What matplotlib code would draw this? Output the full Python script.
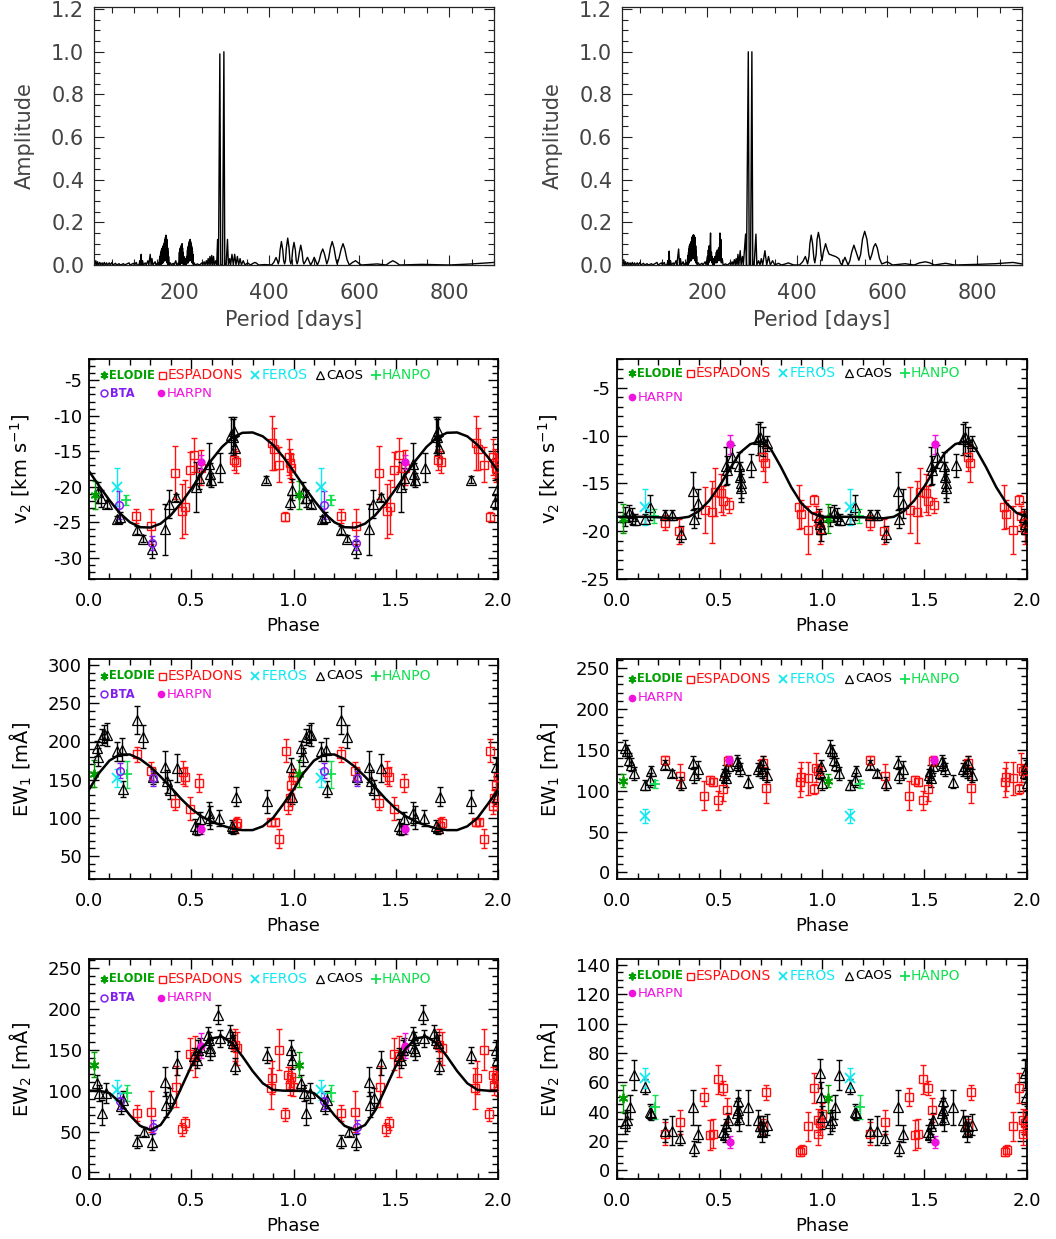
import matplotlib
matplotlib.use("Agg")
import matplotlib.pyplot as plt
from matplotlib.ticker import MultipleLocator, FormatStrFormatter

# ---------------- periodogram data (period [days], amplitude) ----------------
per_left = [(12,0),(14,0.02),(16,0),(18,0.015),(20,0),(23,0.012),(25,0),(28,0.01),(30,0),(33,0.012),(35,0),
            (38,0.01),(40,0),(44,0.01),(46,0),(50,0.012),(52,0),(58,0.008),(60,0),(66,0.006),(68,0),(76,0.006),
            (78,0),(88,0.01),(90,0),(98,0.008),(100,0),(104,0.012),(106,0),(110,0),(112,0.02),(113,0),(115,0.05),
            (116,0),(118,0.02),(120,0),(124,0.01),(126,0),(130,0.02),(132,0),(135,0.05),(137,0),(139,0.03),(141,0),
            (146,0.015),(148,0),(152,0.01),(154,0),(156,0.03),(156.5,0),(157,0.04),(157.5,0),(158,0.05),(158.5,0.0),
            (159,0.06),(159.5,0),(160,0.07),(160.5,0.01),(161,0.075),(161.5,0.01),
            (162,0.08),(162.5,0.01),(163,0.085),(163.5,0.01),(164,0.09),(164.5,0.02),(165,0.095),(165.5,0.02),
            (166,0.1),(166.5,0.02),(167,0.11),(167.5,0.02),(168,0.12),(168.5,0.03),(169,0.13),(169.5,0.03),(170,0.14),
            (170.5,0.02),(171,0.13),(171.5,0.02),(172,0.12),(172.5,0.01),(173,0.1),(173.5,0.01),(174,0.08),(174.5,0),
            (175,0.06),(175.5,0),(176,0.04),(177,0),(180,0.01),(182,0),(186,0.008),
            (188,0),(192,0.02),(194,0),(198,0.01),(199,0),(200,0.06),(200.5,0),(201,0.07),(201.5,0),(202,0.08),
            (202.5,0.01),(203,0.085),(203.5,0.01),(204,0.09),(204.5,0.01),(205,0.095),(205.5,0.01),(206,0.1),
            (206.5,0.01),(207,0.08),(207.5,0.01),(208,0.06),(209,0),(210,0.04),(211,0),(212,0.02),(213,0),(214,0.03),
            (215,0),(216,0.04),(217,0.01),(218,0.07),(218.5,0.01),(219,0.08),(219.5,0.01),(220,0.09),(220.5,0.02),
            (221,0.1),(221.5,0.02),(222,0.11),(222.5,0.02),(223,0.115),(223.5,0.02),
            (224,0.12),(224.5,0.03),(225,0.11),(225.5,0.03),(226,0.1),(226.5,0.02),(227,0.09),(227.5,0.02),(228,0.08),
            (228.5,0.01),(229,0.065),(229.5,0.01),(230,0.05),(231,0),(233,0.01),(235,0),
            (240,0.005),(245,0),(250,0.01),(252,0),(255,0.015),(257,0),(260,0.02),(262,0),(264,0.03),(266,0),
            (268,0.04),(270,0),(272,0.045),(274,0),(276,0.04),(278,0),(281,0.02),(283,0),(285,0.12),(287,0),
            (290,0.99),(292,0),(296,0),(299,1.0),(301,0),(304,0),(307,0.12),(309,0),(312,0.03),(314,0),(317,0.05),
            (320,0),(323,0.05),(326,0),(329,0.04),(332,0),(335,0.03),(338,0),(342,0.02),(346,0),(352,0.01),(358,0),
            (364,0.008),(368,0.012),(372,0.008),(376,0),(390,0.002),(405,0),(410,0.012),(415,0.035),(418,0.02),
            (420,0.005),(422,0.02),(424,0.07),(427,0.11),(430,0.07),(432,0.02),(434,0.005),(436,0.02),(438,0.08),
            (441,0.126),(444,0.08),(446,0.02),(448,0.005),(450,0.02),(452,0.07),(455,0.106),(458,0.07),(460,0.02),
            (462,0.005),(464,0.02),(467,0.06),(470,0.093),(473,0.06),(475,0.02),(477,0.005),(480,0.015),
            (485,0.036),(489,0.015),(492,0),(496,0.015),(500,0.036),(504,0.015),(507,0),(511,0.02),(515,0.055),
            (519,0.075),(523,0.05),(528,0.005),(532,0.03),(536,0.08),(540,0.11),(544,0.08),(548,0.03),(551,0.005),
            (555,0.03),(560,0.075),(564,0.10),(568,0.075),(573,0.025),(578,0),(585,0.012),(592,0.02),(598,0.01),
            (605,0),(620,0.002),(640,0.005),(660,0),(668,0.012),(675,0.02),(682,0.012),(690,0),(740,0.003),
            (800,0),(850,0.005),(900,0.012)]

per_right = [(12,0),(14,0.025),(16,0),(18,0.015),(20,0),(23,0.012),(25,0),(28,0.01),(30,0),(33,0.012),(35,0),
             (38,0.01),(40,0),(44,0.01),(46,0),(50,0.012),(52,0),(58,0.008),(60,0),(66,0.006),(68,0),(76,0.006),
             (78,0),(88,0.012),(90,0),(98,0.01),(100,0),(104,0.012),(106,0),(110,0),(112,0.02),(113,0),(115,0.065),
             (116,0),(118,0.02),(120,0),(124,0.01),(126,0),(130,0.02),(132,0),(136,0.075),(138,0),(140,0.03),(142,0),
             (146,0.015),(148,0),(152,0.01),(154,0),(156,0.03),(156.5,0),(157,0.045),(157.5,0),(158,0.06),
             (158.5,0.01),(159,0.075),(159.5,0.01),(160,0.09),(160.5,0.02),(161,0.095),(161.5,0.02),
             (162,0.1),(162.5,0.02),(163,0.105),(163.5,0.02),(164,0.11),(164.5,0.03),(165,0.12),(165.5,0.03),
             (166,0.13),(166.5,0.03),(167,0.135),(167.5,0.03),(168,0.14),(168.5,0.04),(169,0.14),(169.5,0.04),
             (170,0.14),(170.5,0.03),(171,0.135),(171.5,0.03),(172,0.13),(172.5,0.02),(173,0.11),(173.5,0.02),
             (174,0.09),(174.5,0.01),(175,0.065),(175.5,0.01),(176,0.04),(177,0),(180,0.01),(182,0),
             (188,0.008),(190,0),(195,0.015),(197,0),(200,0.04),(201,0),(202,0.07),(203,0.01),(204,0.09),(205,0.02),
             (207,0.15),(208,0.02),(209,0.06),(210,0.01),(211,0.04),(212,0),(214,0.03),(215,0),(217,0.04),(218,0.01),
             (220,0.06),(221,0.01),(222,0.07),(223,0.02),(225,0.08),(226,0.02),(228,0.15),(229,0.02),(230,0.12),
             (231,0.01),(233,0.03),(235,0),(240,0.005),(245,0),(250,0.01),(252,0),(255,0.015),(257,0),(260,0.025),
             (262,0),(264,0.03),(266,0),(268,0.05),(270,0),(273,0.067),(275,0),(278,0.04),(280,0),(285,0.145),
             (287,0),(291,1.0),(293,0),(296,0),(299,1.0),(301,0),(304,0),(308,0.145),(310,0),(314,0.02),(317,0),
             (320,0.03),(323,0),(328,0.067),(332,0),(336,0.04),(340,0),(345,0.02),(350,0),(358,0.008),(365,0),
             (375,0.006),(380,0.01),(385,0.006),(392,0),(405,0),(412,0.015),(418,0.04),(421,0.02),(423,0.005),
             (426,0.04),(428,0.1),(431,0.14),(434,0.1),(437,0.03),(439,0.01),(442,0.05),(444,0.12),(447,0.153),
             (450,0.12),(453,0.05),(455,0.02),(458,0.06),(463,0.10),(467,0.07),(471,0.05),(475,0.048),(478,0.045),
             (482,0.042),(485,0.04),(489,0.035),(493,0.028),(496,0.01),(499,0),(502,0.015),(506,0.036),(510,0.015),
             (513,0),(517,0.02),(521,0.06),(526,0.093),(531,0.06),(537,0.022),(541,0.05),(545,0.12),(550,0.158),
             (555,0.12),(559,0.05),(562,0.025),(566,0.05),(570,0.085),(574,0.10),(578,0.08),(583,0.03),(588,0.005),
             (594,0.01),(600,0.015),(606,0.008),(612,0),(640,0.006),(660,0),(672,0.01),(685,0.015),(695,0.01),
             (705,0),(730,0.008),(750,0),(800,0.003),(840,0.006),(880,0.012),(900,0.005)]

# ---------------- model curves (phase grid and values) ----------------
curve_phase = [0.00, 0.05, 0.10, 0.15, 0.20, 0.25, 0.30, 0.35, 0.40, 0.45, 0.50,
               0.55, 0.60, 0.65, 0.70, 0.75, 0.80, 0.85, 0.90, 0.95, 1.00]
v2L_curve = [-17.8, -19.9, -21.9, -23.7, -25.0, -25.7, -25.75, -25.2, -24.0, -22.3, -20.3,
             -18.2, -16.2, -14.4, -13.1, -12.4, -12.35, -12.9, -14.1, -15.8, -17.8]
v2R_curve = [-18.5, -18.5, -18.5, -18.5, -18.55, -18.6, -18.65, -18.5, -17.9, -16.8, -15.3,
             -13.5, -11.8, -10.9, -10.6, -11.4, -13.3, -15.4, -17.1, -18.1, -18.5]
e1L_curve = [137, 159, 175, 183, 183, 177, 167, 154, 140, 125, 112, 102, 95, 90, 86, 84, 84, 89, 100, 118, 137]
e2L_curve = [100, 100, 97, 86, 70, 57, 52, 58, 76, 103, 130, 152, 164, 166, 158, 142, 124, 109, 101, 100, 100]

# ---------------- phase-folded data: (phase, value, error) ----------------
v2L_elodie = [(0.028, -21.2, 2.0)]
v2L_espadons = [(0.232, -24.1, 1.0), (0.305, -25.6, 2.4), (0.420, -18.0, 3.7), (0.456, -23.4, 3.8),
                (0.471, -22.9, 3.8), (0.493, -17.6, 2.5), (0.515, -15.5, 2.4), (0.546, -17.3, 2.5),
                (0.708, -16.2, 1.5), (0.720, -16.5, 1.5), (0.893, -13.9, 3.8), (0.903, -14.7, 3.0),
                (0.930, -16.9, 2.5), (0.960, -24.2, 0.6), (0.976, -15.8, 2.5), (0.984, -16.7, 2.0),
                (0.988, -17.4, 2.0)]
v2L_feros = [(0.135, -20.0, 2.7)]
v2L_caos = [(0.045, -20.8, 1.5), (0.060, -21.6, 1.2), (0.086, -22.4, 0.6), (0.137, -24.6, 0.5),
            (0.152, -24.3, 0.8), (0.234, -26.1, 0.5), (0.262, -27.3, 0.5), (0.308, -28.8, 1.2),
            (0.370, -26.0, 3.6), (0.389, -22.4, 2.0), (0.427, -21.5, 0.5), (0.524, -20.0, 3.5),
            (0.539, -18.8, 1.5), (0.585, -16.8, 3.0), (0.590, -18.2, 1.5), (0.595, -19.0, 1.0),
            (0.642, -17.3, 2.0), (0.695, -12.7, 2.5), (0.703, -13.0, 2.5), (0.707, -12.2, 2.0),
            (0.712, -14.5, 1.5), (0.866, -19.0, 0.5), (0.985, -22.1, 1.0), (0.995, -20.4, 1.5)]
v2L_hanpo = [(0.182, -21.9, 0.7)]
v2L_bta = [(0.148, -22.6, 2.0), (0.308, -27.9, 1.0)]
v2L_harpn = [(0.547, -16.5, 1.0)]

v2R_elodie = [(0.029, -18.7, 1.5)]
v2R_espadons = [(0.236, -19.1, 0.8), (0.301, -20.0, 1.3), (0.430, -17.8, 2.4), (0.462, -18.0, 3.2),
                (0.478, -15.9, 2.5), (0.505, -16.0, 2.0), (0.518, -16.8, 1.5), (0.545, -17.3, 0.8),
                (0.713, -12.2, 1.5), (0.722, -12.9, 2.0), (0.890, -17.5, 2.3), (0.900, -18.2, 1.5),
                (0.932, -19.9, 2.5), (0.960, -16.7, 0.5), (0.972, -18.4, 1.0), (0.984, -19.1, 1.2),
                (0.992, -19.8, 1.5)]
v2R_feros = [(0.135, -17.5, 1.9)]
v2R_caos = [(0.037, -18.5, 1.0), (0.057, -18.1, 0.8), (0.073, -18.4, 0.8), (0.090, -18.8, 0.6),
            (0.138, -18.7, 0.5), (0.163, -17.5, 1.3), (0.236, -18.3, 0.5), (0.269, -18.3, 0.5),
            (0.311, -20.3, 0.8), (0.371, -15.8, 2.0), (0.375, -18.7, 1.0), (0.396, -17.1, 1.5),
            (0.530, -13.2, 2.0), (0.538, -13.6, 1.5), (0.562, -12.2, 1.2), (0.595, -13.2, 1.5),
            (0.600, -14.3, 1.5), (0.603, -15.0, 1.5), (0.606, -15.5, 1.5), (0.652, -13.1, 1.2),
            (0.690, -10.4, 1.6), (0.700, -10.2, 1.6), (0.712, -10.6, 1.5), (0.730, -10.8, 0.8),
            (0.985, -18.5, 0.8), (0.990, -19.3, 1.0), (0.996, -19.8, 1.2)]
v2R_hanpo = [(0.182, -18.4, 0.7)]
v2R_harpn = [(0.552, -10.9, 1.0)]

e1L_elodie = [(0.026, 158, 18)]
e1L_espadons = [(0.233, 183, 10), (0.301, 161, 12), (0.420, 120, 10), (0.458, 160, 15), (0.469, 154, 12),
                (0.493, 112, 15), (0.539, 146, 12), (0.717, 90, 10), (0.725, 93, 8), (0.892, 94, 5),
                (0.909, 94, 5), (0.930, 73, 12), (0.961, 188, 15), (0.974, 115, 10), (0.982, 126, 10),
                (0.990, 143, 10), (0.998, 154, 10)]
e1L_feros = [(0.135, 152, 12)]
e1L_caos = [(0.037, 191, 10), (0.046, 180, 12), (0.062, 206, 10), (0.075, 210, 12), (0.086, 209, 15),
            (0.135, 187, 12), (0.160, 189, 15), (0.164, 138, 10), (0.233, 228, 18), (0.262, 206, 15),
            (0.311, 154, 10), (0.371, 167, 20), (0.380, 148, 15), (0.396, 137, 12), (0.428, 165, 18),
            (0.518, 89, 10), (0.526, 85, 8), (0.542, 98, 10), (0.586, 106, 15), (0.592, 100, 15),
            (0.637, 100, 10), (0.697, 89, 8), (0.705, 87, 8), (0.717, 128, 12), (0.868, 122, 15),
            (0.990, 167, 12), (0.995, 128, 10)]
e1L_hanpo = [(0.184, 157, 18)]
e1L_bta = [(0.151, 162, 10), (0.311, 152, 10)]
e1L_harpn = [(0.547, 85, 6)]

e1R_elodie = [(0.029, 112, 8)]
e1R_espadons = [(0.233, 137, 6), (0.306, 118, 15), (0.423, 94, 18), (0.453, 113, 5), (0.469, 111, 5),
                (0.493, 88, 12), (0.518, 102, 15), (0.542, 136, 6), (0.713, 134, 8), (0.725, 103, 18),
                (0.892, 110, 18), (0.900, 117, 18), (0.933, 115, 20), (0.961, 102, 6), (0.969, 128, 18),
                (0.979, 124, 8)]
e1R_feros = [(0.135, 69, 8)]
e1R_caos = [(0.041, 152, 10), (0.049, 148, 8), (0.059, 138, 8), (0.070, 132, 8), (0.083, 121, 8),
            (0.135, 107, 6), (0.163, 113, 8), (0.164, 124, 6), (0.236, 132, 6), (0.269, 121, 4),
            (0.311, 109, 8), (0.371, 134, 8), (0.375, 119, 10), (0.396, 126, 10), (0.521, 119, 8),
            (0.526, 124, 8), (0.534, 115, 10), (0.542, 130, 8), (0.583, 136, 8), (0.591, 132, 8),
            (0.599, 126, 8), (0.637, 111, 8), (0.689, 126, 8), (0.697, 130, 8), (0.705, 124, 8),
            (0.710, 134, 8), (0.734, 119, 8), (0.990, 122, 8), (0.995, 130, 8), (0.998, 109, 8)]
e1R_hanpo = [(0.184, 108, 5)]
e1R_harpn = [(0.547, 138, 5)]

e2L_elodie = [(0.026, 132, 15)]
e2L_espadons = [(0.233, 73, 10), (0.301, 74, 25), (0.423, 105, 25), (0.453, 53, 8), (0.469, 60, 8),
                (0.493, 145, 20), (0.518, 142, 25), (0.713, 156, 20), (0.725, 152, 20), (0.888, 103, 25),
                (0.897, 116, 20), (0.930, 150, 25), (0.958, 71, 8), (0.974, 119, 10), (0.982, 107, 12),
                (0.990, 117, 12), (0.998, 105, 12)]
e2L_feros = [(0.135, 101, 12)]
e2L_caos = [(0.037, 109, 10), (0.049, 97, 10), (0.062, 73, 15), (0.083, 97, 12), (0.155, 81, 10),
            (0.164, 89, 10), (0.233, 38, 8), (0.269, 50, 5), (0.306, 37, 10), (0.371, 111, 18),
            (0.375, 83, 15), (0.396, 91, 12), (0.428, 134, 15), (0.515, 142, 10), (0.526, 138, 10),
            (0.534, 150, 12), (0.542, 154, 10), (0.583, 168, 10), (0.588, 162, 10), (0.591, 152, 10),
            (0.594, 148, 10), (0.632, 193, 12), (0.640, 164, 10), (0.689, 170, 10), (0.697, 162, 10),
            (0.705, 158, 10), (0.713, 130, 10), (0.868, 144, 10), (0.990, 150, 12), (0.995, 138, 12)]
e2L_hanpo = [(0.184, 97, 10)]
e2L_bta = [(0.151, 87, 10), (0.311, 56, 8)]
e2L_harpn = [(0.547, 155, 15)]

e2R_elodie = [(0.029, 49, 9)]
e2R_espadons = [(0.233, 25, 8), (0.306, 33, 8), (0.423, 50, 6), (0.453, 24, 10), (0.469, 25, 10),
                (0.493, 62, 10), (0.518, 56, 5), (0.539, 41, 8), (0.713, 30, 5), (0.725, 53, 5),
                (0.892, 12.5, 3), (0.904, 14, 3), (0.933, 30, 10), (0.961, 56, 10), (0.979, 25, 8),
                (0.982, 34, 8), (0.990, 32, 8), (0.998, 38, 8)]
e2R_feros = [(0.135, 63, 7)]
e2R_caos = [(0.041, 32, 7), (0.049, 34, 7), (0.062, 43, 8), (0.083, 65, 10), (0.135, 57, 5),
            (0.160, 40, 5), (0.164, 39, 5), (0.236, 27, 8), (0.269, 27, 10), (0.306, 22, 5),
            (0.371, 43, 12), (0.375, 15, 5), (0.396, 25, 6), (0.518, 26, 5), (0.526, 24, 5),
            (0.534, 30, 5), (0.542, 34, 5), (0.583, 39, 8), (0.588, 41, 8), (0.591, 47, 8),
            (0.596, 35, 8), (0.637, 43, 12), (0.689, 34, 7), (0.697, 30, 7), (0.705, 26, 7),
            (0.710, 30, 7), (0.734, 31, 7), (0.990, 66, 10), (0.995, 50, 10), (0.998, 36, 8)]
e2R_hanpo = [(0.184, 43, 8)]
e2R_harpn = [(0.550, 19, 4)]

# ---------------- styling ----------------
plt.rcParams['font.family'] = ['DejaVu Sans']
plt.rcParams['mathtext.fontset'] = 'dejavusans'

STY = {
    'ELODIE':   dict(marker=(6, 2, 0), color='#00a000', ms=7, mfc='#00a000', mew=1.3),
    'ESPADONS': dict(marker='s', color='#ff1010', ms=6.3, mfc='none', mew=1.0),
    'FEROS':    dict(marker='x', color='#10e8f0', ms=6.5, mfc='#10e8f0', mew=1.3),
    'CAOS':     dict(marker='^', color='black', ms=6.8, mfc='none', mew=0.9),
    'HANPO':    dict(marker='+', color='#10e050', ms=7.5, mfc='#10e050', mew=1.3),
    'BTA':      dict(marker='o', color='#8020f0', ms=5.5, mfc='none', mew=1.1),
    'HARPN':    dict(marker='o', color='#f010e0', ms=5, mfc='#f010e0', mew=1.0),
}

W, H = 1056.0, 1239.0
fig = plt.figure(figsize=(10.56, 12.39), dpi=100)


def add_ax(x0, y0, x1, y1):
    return fig.add_axes([x0 / W, 1 - y1 / H, (x1 - x0) / W, (y1 - y0) / H])


def periodogram(ax, data):
    p = [d[0] for d in data]
    a = [d[1] for d in data]
    ax.plot(p, a, color='black', lw=1.0)
    ax.set_xlim(10, 900)
    ax.set_ylim(0, 1.21)
    ax.xaxis.set_major_locator(MultipleLocator(200))
    ax.xaxis.set_minor_locator(MultipleLocator(50))
    ax.yaxis.set_major_locator(MultipleLocator(0.2))
    ax.yaxis.set_minor_locator(MultipleLocator(0.05))
    ax.yaxis.set_major_formatter(FormatStrFormatter('%.1f'))
    ax.tick_params(which='both', direction='in', top=True, right=True, colors='#222',
                   labelcolor='#444', labelsize=15, width=0.8)
    ax.tick_params(which='major', length=7)
    ax.tick_params(which='minor', length=4)
    ax.tick_params(axis='x', pad=13)
    ax.tick_params(axis='y', pad=7)
    for s in ax.spines.values():
        s.set_linewidth(0.9)
        s.set_color('#222')
    ax.text(0.5, -0.213, 'Period [days]', transform=ax.transAxes, ha='center', va='center',
            fontsize=15, color='#444')
    ax.text(-0.1725, 0.5, 'Amplitude', transform=ax.transAxes, ha='center', va='center',
            rotation=90, fontsize=15, color='#444')


def phase_panel(ax, sets, curve, ylim, major, minor, ylabel, leg_y, has_bta):
    for name, pts in sets:
        if not pts:
            continue
        st = STY[name]
        xs = [q[0] for q in pts] + [q[0] + 1 for q in pts]
        ys = [q[1] for q in pts] * 2
        es = [q[2] for q in pts] * 2
        ax.errorbar(xs, ys, yerr=es, fmt='none', ecolor=st['color'], elinewidth=1.0,
                    capsize=2.5, capthick=1.0, zorder=2)
        ax.plot(xs, ys, ls='none', marker=st['marker'], ms=st['ms'], mec=st['color'],
                mfc=st['mfc'], mew=st['mew'], zorder=3)
    if curve is not None:
        cx = curve_phase + [c + 1 for c in curve_phase[1:]]
        cy = curve + curve[1:]
        ax.plot(cx, cy, color='black', lw=1.8, zorder=4)
    ax.set_xlim(0, 2)
    ax.set_ylim(*ylim)
    ax.xaxis.set_major_locator(MultipleLocator(0.5))
    ax.xaxis.set_minor_locator(MultipleLocator(0.1))
    ax.yaxis.set_major_locator(MultipleLocator(major))
    ax.yaxis.set_minor_locator(MultipleLocator(minor))
    ax.xaxis.set_major_formatter(FormatStrFormatter('%.1f'))
    ax.yaxis.set_major_formatter(FormatStrFormatter('%d'))
    ax.tick_params(which='both', direction='in', top=True, right=True, labelsize=13, width=1.0)
    ax.tick_params(which='major', length=7)
    ax.tick_params(which='minor', length=4)
    ax.tick_params(axis='x', pad=9)
    ax.tick_params(axis='y', pad=5)
    for s in ax.spines.values():
        s.set_linewidth(1.3)
    ax.text(0.5, -0.214, 'Phase', transform=ax.transAxes, ha='center', va='center', fontsize=13)
    ax.text(-0.166, 0.5, ylabel, transform=ax.transAxes, ha='center', va='center',
            rotation=90, fontsize=14)
    # instrument key drawn inside the panel
    y1, y2 = leg_y
    row1 = [('ELODIE', 0.037, 0.050, 8.3, 'bold'), ('ESPADONS', 0.178, 0.192, 10, 'normal'),
            ('FEROS', 0.406, 0.421, 10, 'normal'), ('CAOS', 0.565, 0.580, 9.5, 'normal'),
            ('HANPO', 0.702, 0.716, 10, 'normal')]
    row2 = [('HARPN', 0.176, 0.191, 9.5, 'normal')] if has_bta else [('HARPN', 0.037, 0.051, 9.5, 'normal')]
    if has_bta:
        row2 = [('BTA', 0.037, 0.051, 8.3, 'bold')] + row2
    for items, yy in ((row1, y1), (row2, y2)):
        for name, xm, xt, fs, fw in items:
            st = STY[name]
            ms = st['ms'] * (0.8 if name in ('ESPADONS', 'CAOS', 'ELODIE') else 0.9)
            ax.plot([xm], [yy], transform=ax.transAxes, ls='none', marker=st['marker'], ms=ms,
                    mec=st['color'], mfc=st['mfc'], mew=st['mew'], clip_on=False, zorder=5)
            ax.text(xt, yy, name, transform=ax.transAxes, ha='left', va='center', fontsize=fs,
                    fontweight=fw, color=st['color'] if name != 'CAOS' else 'black', zorder=5)


# ---------------- periodograms ----------------
ax = add_ax(94, 7, 494, 265)
periodogram(ax, per_left)
ax = add_ax(622, 7, 1022, 265)
periodogram(ax, per_right)

# ---------------- phase panels ----------------
VLAB = 'v$_2$ [km s$^{-1}$]'
ax = add_ax(89, 359, 498, 579)
phase_panel(ax, [('ESPADONS', v2L_espadons), ('CAOS', v2L_caos), ('FEROS', v2L_feros),
                 ('ELODIE', v2L_elodie), ('HANPO', v2L_hanpo), ('BTA', v2L_bta), ('HARPN', v2L_harpn)],
            v2L_curve, (-33, -2), 5, 1, VLAB, (0.927, 0.845), True)
ax = add_ax(617, 359, 1027, 579)
phase_panel(ax, [('ESPADONS', v2R_espadons), ('CAOS', v2R_caos), ('FEROS', v2R_feros),
                 ('ELODIE', v2R_elodie), ('HANPO', v2R_hanpo), ('HARPN', v2R_harpn)],
            v2R_curve, (-25, -2), 5, 1, VLAB, (0.936, 0.827), False)

ax = add_ax(89, 659, 498, 879)
phase_panel(ax, [('ESPADONS', e1L_espadons), ('CAOS', e1L_caos), ('FEROS', e1L_feros),
                 ('ELODIE', e1L_elodie), ('HANPO', e1L_hanpo), ('BTA', e1L_bta), ('HARPN', e1L_harpn)],
            e1L_curve, (20, 308), 50, 10, 'EW$_1$ [mÅ]', (0.923, 0.84), True)
ax = add_ax(617, 659, 1027, 879)
phase_panel(ax, [('ESPADONS', e1R_espadons), ('CAOS', e1R_caos), ('FEROS', e1R_feros),
                 ('ELODIE', e1R_elodie), ('HANPO', e1R_hanpo), ('HARPN', e1R_harpn)],
            None, (-8, 261), 50, 10, 'EW$_1$ [mÅ]', (0.91, 0.823), False)

ax = add_ax(89, 959, 498, 1179)
phase_panel(ax, [('ESPADONS', e2L_espadons), ('CAOS', e2L_caos), ('FEROS', e2L_feros),
                 ('ELODIE', e2L_elodie), ('HANPO', e2L_hanpo), ('BTA', e2L_bta), ('HARPN', e2L_harpn)],
            e2L_curve, (-8, 261), 50, 10, 'EW$_2$ [mÅ]', (0.91, 0.823), True)
ax = add_ax(617, 959, 1027, 1179)
phase_panel(ax, [('ESPADONS', e2R_espadons), ('CAOS', e2R_caos), ('FEROS', e2R_feros),
                 ('ELODIE', e2R_elodie), ('HANPO', e2R_hanpo), ('HARPN', e2R_harpn)],
            None, (-6, 144), 20, 5, 'EW$_2$ [mÅ]', (0.923, 0.845), False)

fig.savefig('out.png', dpi=100)
